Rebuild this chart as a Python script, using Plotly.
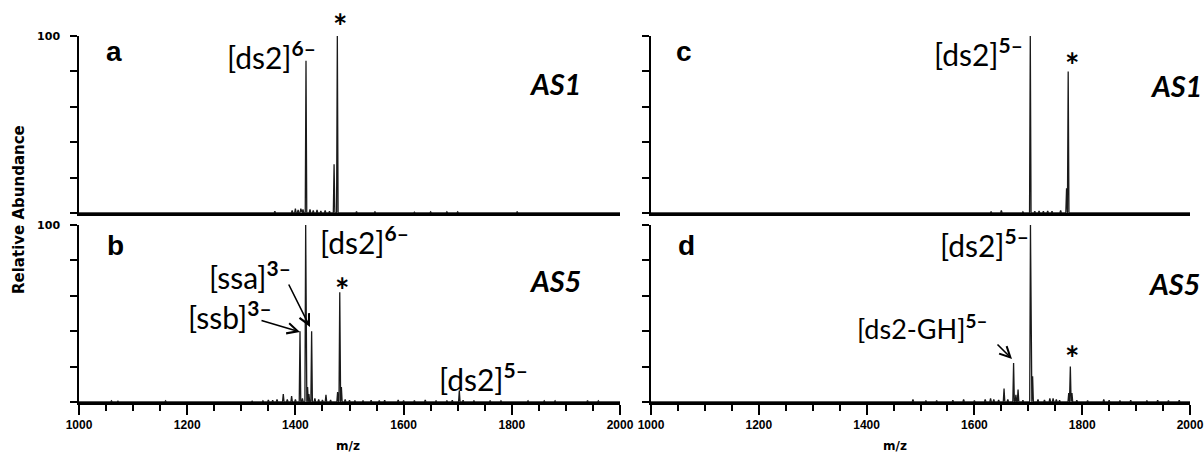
import plotly.graph_objects as go

# ---------------- data (peak centroids m/z, relative intensity) ----------------
A_MZ = [1362, 1394, 1400, 1405, 1410, 1414, 1419.6, 1427, 1433, 1440, 1447, 1455, 1463, 1471.5, 1477.5,
        1513, 1547, 1620, 1650, 1680, 1700, 1810]
A_INT = [1.0, 1.5, 2.5, 1.8, 2.5, 2.0, 86, 2.0, 1.5, 1.8, 1.2, 1.5, 1.0, 27.5, 100,
         0.8, 0.8, 0.5, 0.6, 0.6, 0.6, 0.8]

B_MZ = [1060, 1072, 1160, 1320, 1340, 1350, 1358, 1366, 1377.6, 1385, 1393, 1400, 1408.5, 1413, 1419,
        1422.5, 1425, 1430, 1436, 1443, 1450, 1456.5, 1465, 1478, 1482, 1485, 1492, 1500, 1510, 1525,
        1540, 1555, 1565, 1590, 1600, 1620, 1640, 1660, 1680, 1690, 1703, 1710, 1730, 1760, 1780,
        1830, 1860, 1880, 1940, 1960]
B_INT = [0.6, 0.5, 0.6, 0.5, 0.6, 1.2, 1.0, 1.5, 4.5, 1.5, 3.4, 1.5, 40, 2.0, 100,
         8.4, 4.5, 40, 2.0, 1.5, 1.2, 4.0, 1.2, 5.6, 62, 8.4, 1.5, 1.0, 0.8, 0.8,
         1.0, 0.8, 1.0, 1.2, 0.8, 0.8, 1.2, 0.8, 0.8, 1.0, 6.5, 1.0, 0.8, 0.8, 0.6,
         0.6, 0.6, 0.6, 0.8, 0.6]

C_MZ = [1631, 1650, 1690, 1703.7, 1712, 1720, 1728, 1736, 1744, 1760, 1771, 1774]
C_INT = [0.8, 1.5, 0.6, 100, 1.0, 1.2, 1.0, 1.2, 1.0, 1.5, 14, 80]

D_MZ = [1486, 1510, 1530, 1560, 1580, 1600, 1620, 1630, 1636, 1645, 1655, 1662, 1672.7, 1677, 1681,
        1690, 1704, 1708, 1718, 1730, 1740, 1746, 1752, 1758, 1775, 1778, 1781, 1790, 1810, 1840,
        1850, 1870, 1890, 1920, 1940, 1960, 1980]
D_INT = [1.5, 0.8, 0.8, 1.0, 1.5, 0.8, 1.5, 2.0, 1.5, 1.2, 7.6, 1.5, 22, 4.0, 7.0,
         1.0, 100, 14.6, 1.5, 1.2, 2.0, 2.0, 1.5, 1.0, 5.0, 20, 5.0, 1.0, 0.8, 1.5,
         1.0, 0.8, 1.0, 0.8, 1.0, 0.8, 1.0]

X_TICKS = [1000, 1200, 1400, 1600, 1800, 2000]
Y_LABEL_TICK = [100]

W, H = 1204, 452
HALF = 1.4  # half width of a peak in m/z


def profile(mz, inten):
    xs, ys = [1000], [0]
    for m, h in zip(mz, inten):
        xs += [m - HALF, m, m + HALF]
        ys += [0, h, 0]
    xs.append(2000)
    ys.append(0)
    return xs, ys


def px(x):
    return x / W


def py(y):
    return 1 - y / H


LINE = "#1a1a1a"
fig = go.Figure()
for i, (mz, it) in enumerate([(A_MZ, A_INT), (B_MZ, B_INT), (C_MZ, C_INT), (D_MZ, D_INT)], start=1):
    xs, ys = profile(mz, it)
    fig.add_trace(go.Scatter(x=xs, y=ys, mode="lines", line=dict(color=LINE, width=1.3),
                             xaxis=f"x{i}" if i > 1 else "x", yaxis=f"y{i}" if i > 1 else "y",
                             showlegend=False, hoverinfo="skip"))

LEFT = [79 / W, 620 / W]
RIGHT = [651 / W, 1190 / W]
TOP = [py(213), py(36)]
BOT = [py(402), py(225)]

tick_font = dict(family="Liberation Sans", size=12, color="black")


def xaxis(domain, anchor, bottom):
    d = dict(domain=domain, anchor=anchor, range=[1000, 2000], showgrid=False, zeroline=False,
             showline=True, linecolor="black", linewidth=3, fixedrange=True, automargin=False)
    if bottom:
        d.update(tickvals=X_TICKS, ticktext=[f"<b>{v}</b>" for v in X_TICKS], ticks="outside",
                 ticklen=10, tickwidth=2, tickcolor="black", tickfont=tick_font,
                 ticklabeloverflow="allow",
                 minor=dict(dtick=50, tick0=1000, ticks="outside", ticklen=6, tickwidth=2, tickcolor="black"))
    else:
        d.update(showticklabels=False, ticks="")
    return d


def yaxis(domain, anchor, label):
    return dict(domain=domain, anchor=anchor, range=[0, 100], showgrid=False, zeroline=False,
                showline=True, linecolor="black", linewidth=1.5, ticks="outside", ticklen=7,
                tickwidth=1.5, tickcolor="black", tickvals=Y_LABEL_TICK,
                ticktext=[f"<b>{v}</b>" for v in Y_LABEL_TICK], showticklabels=label,
                ticklabelstandoff=8,
                minor=dict(dtick=20, tick0=0, ticks="outside", ticklen=7, tickwidth=1.5, tickcolor="black"),
                tickfont=dict(family="DejaVu Sans", size=11, color="black"), fixedrange=True,
                automargin=False)


fig.update_layout(
    width=W, height=H, autosize=False, margin=dict(l=0, r=0, t=0, b=0, pad=0),
    paper_bgcolor="white", plot_bgcolor="white", showlegend=False,
    xaxis=xaxis(LEFT, "y", False), yaxis=yaxis(TOP, "x", True),
    xaxis2=xaxis(LEFT, "y2", True), yaxis2=yaxis(BOT, "x2", True),
    xaxis3=xaxis(RIGHT, "y3", False), yaxis3=yaxis(TOP, "x3", False),
    xaxis4=xaxis(RIGHT, "y4", True), yaxis4=yaxis(BOT, "x4", False),
)

ann = []
LAB = dict(family="Lato", size=30, color="black")
LAB_S = dict(family="Lato", size=27, color="black")
LET = dict(family="Liberation Sans", size=28, color="black")
AS = dict(family="Lato", size=29, color="black")
STAR = dict(family="Lato", size=34, color="black")


def text(x, y, t, font, xanchor="center"):
    ann.append(dict(x=px(x), y=py(y), xref="paper", yref="paper", text=t, showarrow=False,
                    font=font, xanchor=xanchor, yanchor="middle"))


def arrow(tx, ty, fx, fy):
    ann.append(dict(x=px(tx), y=py(ty), xref="paper", yref="paper", text="", showarrow=True,
                    ax=fx - tx, ay=fy - ty, arrowhead=5, arrowsize=1.3, arrowwidth=1.6, arrowcolor="black"))


DS6 = "[ds2]<sup><b>6–</b></sup>"
DS5 = "[ds2]<sup><b>5–</b></sup>"
# panel a
text(114, 52, "<b>a</b>", LET)
text(271, 55, DS6, LAB)
text(340, 26, "<b>*</b>", STAR)
text(555, 83, "<b><i>AS1</i></b>", AS)
# panel b
text(115, 246, "<b>b</b>", LET)
text(364, 240, DS6, LAB)
text(250, 275, "[ssa]<sup><b>3–</b></sup>", LAB)
text(230, 315, "[ssb]<sup><b>3–</b></sup>", LAB)
text(342, 289, "<b>*</b>", STAR)
text(483, 377, DS5, LAB)
text(555, 280, "<b><i>AS5</i></b>", AS)
arrow(310, 327, 288, 283)
arrow(300, 332, 260, 320)
# panel c
text(684, 52, "<b>c</b>", LET)
text(978, 52, DS5, LAB)
text(1072, 64, "<b>*</b>", STAR)
text(1176, 85, "<b><i>AS1</i></b>", AS)
# panel d
text(686, 246, "<b>d</b>", LET)
text(984, 243, DS5, LAB)
text(922, 327, "[ds2-GH]<sup><b>5–</b></sup>", LAB_S)
text(1072, 357, "<b>*</b>", STAR)
text(1174, 283, "<b><i>AS5</i></b>", AS)
arrow(1012, 359, 996, 343)

# axis titles
ann.append(dict(x=px(19), y=py(210), xref="paper", yref="paper", text="<b>Relative Abundance</b>",
                showarrow=False, textangle=-90, font=dict(family="DejaVu Sans", size=15, color="black"),
                xanchor="center", yanchor="middle"))
for cx in (348, 895):
    ann.append(dict(x=px(cx), y=py(446), xref="paper", yref="paper", text="<b>m/z</b>",
                    showarrow=False, font=dict(family="DejaVu Sans", size=12, color="black"),
                    xanchor="center", yanchor="middle"))

fig.update_layout(annotations=ann)
fig.write_html("out.html", config={"displayModeBar": False},
               post_script="document.body.style.margin='0';document.body.style.overflow='hidden';")
